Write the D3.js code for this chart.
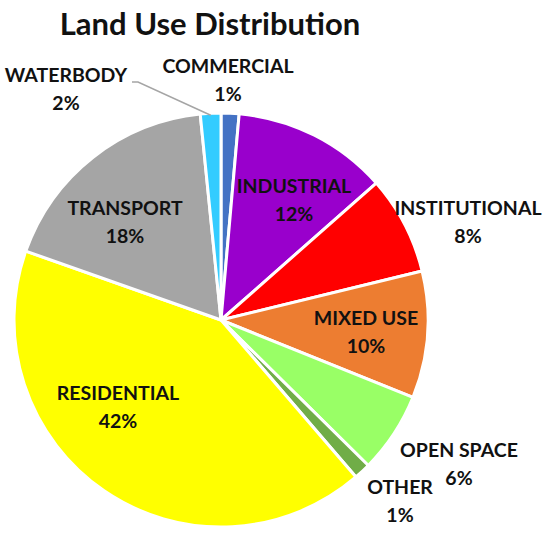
<!DOCTYPE html>
<html>
<head>
<meta charset="utf-8">
<script src="https://cdn.jsdelivr.net/npm/d3@7"></script>
<style>
  html, body { margin: 0; padding: 0; background: #fff; }
  svg { display: block; }
  text { font-family: Lato, "Open Sans", sans-serif; font-weight: 700; fill: #111; }
</style>
</head>
<body>
<svg id="chart" width="550" height="535"></svg>
<script>
// ---- data ----
const categories = ["COMMERCIAL", "INDUSTRIAL", "INSTITUTIONAL", "MIXED USE", "OPEN SPACE", "OTHER", "RESIDENTIAL", "TRANSPORT", "WATERBODY"];
const values     = [1.4, 12.1, 7.7, 9.9, 6.3, 1.3, 41.7, 18.0, 1.6];
const colors     = ["#4472C4", "#9900CC", "#FF0000", "#ED7D31", "#99FF66", "#70AD47", "#FFFF00", "#A5A5A5", "#33CCFF"];
const title = "Land Use Distribution";

// ---- layout (not data) ----
const cx = 221, cy = 320, R = 207;
// label baseline position relative to pie centre
const labelPos = {
  "COMMERCIAL":    [7, -247],
  "INDUSTRIAL":    [73, -127],
  "INSTITUTIONAL": [247, -105],
  "MIXED USE":     [145, 5],
  "OPEN SPACE":    [238, 137],
  "OTHER":         [179, 174],
  "RESIDENTIAL":   [-103, 80],
  "TRANSPORT":     [-96, -105],
  "WATERBODY":     [-155, -238]
};

const svg = d3.select("#chart");

svg.append("text")
  .attr("x", 210).attr("y", 35)
  .attr("text-anchor", "middle")
  .style("font-size", "31px")
  .text(title);

const data = categories.map((c, i) => ({ name: c, value: values[i], color: colors[i] }));

const pie = d3.pie().value(d => d.value).sort(null);
const arc = d3.arc().innerRadius(0).outerRadius(R);
const arcs = pie(data);

const g = svg.append("g").attr("transform", `translate(${cx},${cy})`);

g.selectAll("path")
  .data(arcs)
  .join("path")
  .attr("d", arc)
  .attr("fill", d => d.data.color)
  .attr("stroke", "#fff")
  .attr("stroke-width", 3)
  .attr("stroke-linejoin", "round");

// leader line for WATERBODY
const wb = arcs.find(a => a.data.name === "WATERBODY");
const wbMid = (wb.startAngle + wb.endAngle) / 2;
const wbEdge = [Math.sin(wbMid) * (R - 2), -Math.cos(wbMid) * (R - 2)];
g.append("polyline")
  .attr("points", [[-89, -238], [-83, -238], wbEdge].map(p => p.join(",")).join(" "))
  .attr("fill", "none")
  .attr("stroke", "#A5A5A5")
  .attr("stroke-width", 1.5);

const labels = g.selectAll("g.lbl")
  .data(arcs)
  .join("g")
  .attr("class", "lbl")
  .attr("transform", d => `translate(${labelPos[d.data.name][0]},${labelPos[d.data.name][1]})`);

labels.append("text")
  .attr("text-anchor", "middle")
  .attr("y", 0)
  .style("font-size", "19.5px")
  .text(d => d.data.name);

labels.append("text")
  .attr("text-anchor", "middle")
  .attr("y", 28)
  .style("font-size", "19.5px")
  .text(d => Math.round(d.data.value) + "%");
</script>
</body>
</html>
